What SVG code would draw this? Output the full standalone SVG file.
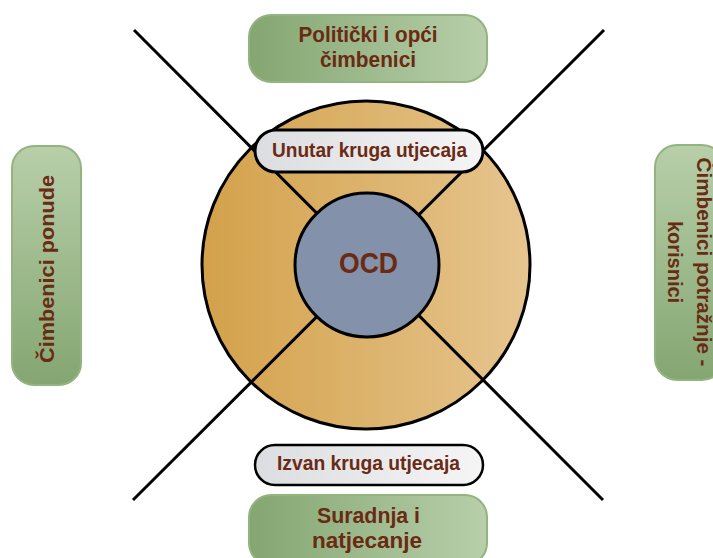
<svg xmlns="http://www.w3.org/2000/svg" width="713" height="558" viewBox="0 0 713 558">
  <defs>
    <linearGradient id="gOrange" x1="0" y1="0" x2="1" y2="0">
      <stop offset="0" stop-color="#d3a14a"/>
      <stop offset="1" stop-color="#e6c58f"/>
    </linearGradient>
    <linearGradient id="gGreenH" x1="0" y1="0" x2="1" y2="0">
      <stop offset="0" stop-color="#84a671"/>
      <stop offset="1" stop-color="#b8cfaa"/>
    </linearGradient>
    <linearGradient id="gGreenV" x1="0" y1="0" x2="0" y2="1">
      <stop offset="0" stop-color="#b8cfaa"/>
      <stop offset="1" stop-color="#84a671"/>
    </linearGradient>
    <linearGradient id="gGray" x1="0" y1="0" x2="1" y2="0">
      <stop offset="0" stop-color="#dcdde0"/>
      <stop offset="1" stop-color="#f5f5f6"/>
    </linearGradient>
    <style>
      .lbl { font-family: "Liberation Sans", Arial, sans-serif; font-weight: bold; fill: #6a2a14; text-anchor: middle; }
      .green { stroke: #93b37f; stroke-width: 2; }
      .pill { fill: url(#gGray); stroke: #000; }
      .ray { stroke: #000; stroke-width: 3; fill: none; }
    </style>
  </defs>

  <!-- outer ring -->
  <g id="outer-circle">
    <circle cx="366" cy="265" r="164" fill="url(#gOrange)" stroke="#000" stroke-width="3"/>
  </g>

  <!-- crossing lines -->
  <g id="connectors">
    <line class="ray" x1="134" y1="30" x2="603" y2="500"/>
    <line class="ray" x1="604" y1="30" x2="133" y2="500"/>
  </g>

  <g id="ocd">
    <circle cx="367" cy="265" r="72" fill="#8491aa" stroke="#000" stroke-width="3"/>
    <text class="lbl" x="368.5" y="273" font-size="30" textLength="59" lengthAdjust="spacingAndGlyphs">OCD</text>
  </g>

  <g id="inside-label">
    <rect class="pill" x="255" y="130" width="228" height="42" rx="21" stroke-width="3"/>
    <text class="lbl" x="369.5" y="157" font-size="20" textLength="195" lengthAdjust="spacingAndGlyphs">Unutar kruga utjecaja</text>
  </g>

  <g id="outside-label">
    <rect class="pill" x="255" y="445" width="228" height="40" rx="20" stroke-width="2.5"/>
    <text class="lbl" x="368.5" y="470" font-size="20" textLength="183" lengthAdjust="spacingAndGlyphs">Izvan kruga utjecaja</text>
  </g>

  <g id="political">
    <rect class="green" x="249" y="15" width="238" height="67" rx="22" fill="url(#gGreenH)"/>
    <text class="lbl" x="368" y="42" font-size="22" textLength="139" lengthAdjust="spacingAndGlyphs">Politički i opći</text>
    <text class="lbl" x="368" y="67" font-size="22" textLength="96" lengthAdjust="spacingAndGlyphs">čimbenici</text>
  </g>

  <g id="cooperation">
    <rect class="green" x="249" y="495" width="238" height="70" rx="22" fill="url(#gGreenH)"/>
    <text class="lbl" x="368.5" y="523" font-size="22" textLength="103" lengthAdjust="spacingAndGlyphs">Suradnja i</text>
    <text class="lbl" x="367" y="548" font-size="22" textLength="110" lengthAdjust="spacingAndGlyphs">natjecanje</text>
  </g>

  <g id="supply">
    <rect class="green" x="12" y="146" width="69" height="239" rx="22" fill="url(#gGreenV)"/>
    <text class="lbl" transform="translate(54 269) rotate(-90)" x="0" y="0" font-size="20" textLength="188" lengthAdjust="spacingAndGlyphs">Čimbenici ponude</text>
  </g>

  <g id="demand">
    <rect class="green" x="655" y="145" width="69" height="235" rx="22" fill="url(#gGreenV)"/>
    <text class="lbl" transform="translate(697 262) rotate(90)" x="0" y="0" font-size="20" textLength="209" lengthAdjust="spacingAndGlyphs">Čimbenici potražnje -</text>
    <text class="lbl" transform="translate(668 262) rotate(90)" x="0" y="0" font-size="20">korisnici</text>
  </g>
</svg>
